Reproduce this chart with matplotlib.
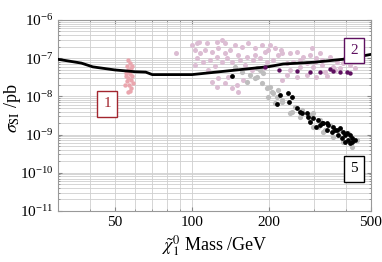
import matplotlib
matplotlib.use("Agg")
import matplotlib.pyplot as plt
from matplotlib.ticker import LogLocator, FixedLocator, NullFormatter

plt.rcParams["font.family"] = ["Liberation Serif", "DejaVu Serif"]
plt.rcParams["mathtext.fontset"] = "stix"

# exclusion limit curve
limit_mass = [30, 37, 41, 50, 60, 66, 70, 100, 150, 200, 227, 300, 400, 500]
limit_sigma = [9.3e-8, 7.4e-8, 5.9e-8, 4.9e-8, 4.4e-8, 4.3e-8, 3.7e-8, 3.7e-8,
               4.9e-8, 6.0e-8, 7.0e-8, 7.8e-8, 9.5e-8, 1.25e-7]

# region 1 (red-pink)
r1_mass = [56.5, 57.5, 58.5, 56.0, 58.0, 56.5, 57.0, 55.5, 57.5, 55.5, 58.5, 56.5,
           58.0, 56.0, 59.0, 57.0, 55.0, 58.0, 57.5, 56.5]
r1_sigma = [9.0e-8, 7.5e-8, 6.2e-8, 6.2e-8, 5.5e-8, 4.9e-8, 4.35e-8, 4.1e-8, 3.9e-8,
            3.4e-8, 3.4e-8, 3.0e-8, 2.7e-8, 2.5e-8, 2.2e-8, 2.0e-8, 2.0e-8, 1.66e-8,
            1.38e-8, 1.3e-8]

# region 2 (light lavender)
r2_mass = [105, 107, 114.5, 125, 131, 134.7, 103, 107.6, 112.5, 120, 126.5, 134.7,
           104.6, 110.5, 117.7, 125, 131, 137, 120, 126.5, 125, 134.7, 143.5, 151,
           150, 158.4, 138, 147.4, 157, 165.5, 176.5, 188, 198, 211, 225, 151, 164,
           173, 184.6, 196.5, 207.5, 161.3, 172, 188, 223, 242, 258, 272, 289, 306,
           322, 346, 369, 389, 235, 248, 264.5, 282, 297, 322, 356, 379, 235, 258,
           282, 306, 337, 242, 225, 415, 434, 396, 100, 103, 140.9, 154, 176.5, 193,
           217, 264.5, 303, 317, 362, 331, 116, 123, 144, 202, 295, 87]
r2_sigma = [2.5e-7, 2.65e-7, 2.5e-7, 2.65e-7, 3.0e-7, 2.5e-7, 1.64e-7, 1.37e-7,
            1.64e-7, 1.45e-7, 1.85e-7, 1.37e-7, 1.01e-7, 7.95e-8, 9.0e-8, 1.07e-7,
            7.95e-8, 1.0e-7, 2.38e-8, 3.0e-8, 1.76e-8, 2.24e-8, 1.66e-8, 1.3e-8,
            2.0e-8, 2.7e-8, 3.2e-8, 2.2e-7, 1.97e-7, 2.5e-7, 1.85e-7, 2.2e-7, 1.64e-7,
            1.85e-7, 1.37e-7, 1.21e-7, 1.07e-7, 9.0e-8, 1.0e-7, 7.95e-8, 9.0e-8,
            6.6e-8, 4.9e-8, 5.5e-8, 1.64e-7, 1.37e-7, 1.45e-7, 1.07e-7, 1.21e-7,
            1.0e-7, 9.0e-8, 1.07e-7, 7.95e-8, 7.5e-8, 7.5e-8, 7.95e-8, 5.9e-8, 7.5e-8,
            5.9e-8, 6.6e-8, 5.9e-8, 5.5e-8, 3.6e-8, 3.2e-8, 3.6e-8, 3.2e-8, 3.4e-8,
            4.9e-8, 2.7e-8, 6.6e-8, 5.5e-8, 1.0e-7, 2.2e-7, 6.6e-8, 1.64e-7, 9.0e-8,
            1.21e-7, 1.45e-7, 1.21e-7, 9.0e-8, 7.95e-8, 1.37e-7, 4.9e-8, 4.35e-8,
            4.9e-8, 6.25e-8, 7.95e-8, 2.2e-7, 1.85e-7, 1.33e-7]

# region 2 (purple, below the limit)
r2b_mass = [193, 219, 258, 289, 316.6, 346, 356, 379, 403, 414.6]
r2b_sigma = [5.9e-8, 4.9e-8, 4.6e-8, 4.35e-8, 4.35e-8, 5.2e-8, 4.6e-8, 4.35e-8,
             4.35e-8, 4.1e-8]

# region 5 (grey)
r5_mass = [147.4, 157, 168.7, 180, 188, 196.5, 206, 215, 198, 211, 225, 180, 164,
           190, 202, 207.5, 225, 246, 253, 264.5, 289, 310, 331, 242, 270, 297, 289,
           316.6, 346, 379, 406, 423, 389, 356, 324, 297, 176.5, 184.6, 217, 443]
r5_sigma = [5.9e-8, 4.35e-8, 3.6e-8, 3.2e-8, 2.24e-8, 1.66e-8, 1.3e-8, 9.6e-9,
            9.6e-9, 6.7e-9, 7.1e-9, 5.5e-8, 2.38e-8, 4.1e-8, 1.76e-8, 1.23e-8,
            8.05e-9, 3.9e-9, 5.3e-9, 2.9e-9, 2.4e-9, 1.58e-9, 1.32e-9, 3.7e-9,
            4.4e-9, 3.7e-9, 3.26e-9, 2.4e-9, 1.78e-9, 1.32e-9, 1.1e-9, 4.7e-10,
            6.4e-10, 8.65e-10, 1.17e-9, 1.58e-9, 3.0e-8, 4.9e-8, 1.47e-8, 7.2e-10]

# region 5 (black)
r5b_mass = [143.5, 221, 237, 246, 215, 239.5, 258, 264.5, 270, 283.5, 297, 310,
            322, 337, 289, 306, 282, 316.6, 324, 340, 356, 369, 379, 389, 403,
            414.6, 423, 406, 396, 414.6, 386, 372, 353, 337, 434, 423, 362, 396]
r5b_sigma = [3.4e-8, 1.09e-8, 1.23e-8, 9.6e-9, 6.3e-9, 7.1e-9, 5.0e-9, 3.9e-9,
             3.7e-9, 2.9e-9, 2.7e-9, 2.4e-9, 2.0e-9, 2.0e-9, 2.14e-9, 1.58e-9,
             3.7e-9, 1.78e-9, 2.0e-9, 1.78e-9, 1.58e-9, 1.32e-9, 1.49e-9, 1.17e-9,
             1.1e-9, 9.8e-10, 8.15e-10, 7.2e-10, 6.4e-10, 6.0e-10, 8.15e-10,
             9.8e-10, 1.17e-9, 1.32e-9, 7.2e-10, 6.4e-10, 1.32e-9, 9.8e-10]

fig = plt.figure(figsize=(3.82, 2.62), dpi=100)
ax = fig.add_axes([0.152, 0.195, 0.819, 0.729])

ax.set_xscale("log")
ax.set_yscale("log")
ax.set_xlim(30, 500)
ax.set_ylim(1e-11, 1e-6)

ax.scatter(r1_mass, r1_sigma, s=10, color="#eaa6ae", linewidths=0, zorder=3)
ax.scatter(r2_mass, r2_sigma, s=13, color="#dcbdd3", linewidths=0, zorder=3)
ax.scatter(r5_mass, r5_sigma, s=14, color="#bdbdbd", linewidths=0, zorder=4)
ax.scatter(r2b_mass, r2b_sigma, s=10, color="#5e1060", linewidths=0, zorder=5)
ax.scatter(r5b_mass, r5b_sigma, s=12, color="black", linewidths=0, zorder=5)
ax.plot(limit_mass, limit_sigma, color="black", lw=2.0, zorder=4)

ax.xaxis.set_major_locator(FixedLocator([50, 100, 200, 500]))
ax.xaxis.set_minor_locator(FixedLocator([30, 40, 60, 70, 80, 90, 300, 400]))
ax.set_xticklabels(["50", "100", "200", "500"])
ax.xaxis.set_minor_formatter(NullFormatter())
ax.yaxis.set_major_locator(LogLocator(base=10, numticks=10))
ax.yaxis.set_minor_locator(LogLocator(base=10, subs=range(2, 10), numticks=20))
ax.yaxis.set_minor_formatter(NullFormatter())

ax.grid(True, which="both", color="#cfcfcf", lw=0.6)
ax.set_axisbelow(True)
ax.tick_params(which="both", direction="in", top=True, right=True,
               color="#888888", labelsize=11, length=3)
ax.tick_params(which="minor", length=1.5)
for sp in ax.spines.values():
    sp.set_color("#999999")
    sp.set_linewidth(0.8)

ax.set_xlabel(r"$\tilde{\chi}_1^0$ Mass /GeV", fontsize=13, labelpad=3)
ax.set_ylabel(r"$\sigma_{\rm SI}$ /pb", fontsize=13)
ax.yaxis.set_label_coords(-0.112, 0.54)

box = dict(boxstyle="square,pad=0.4", fc="white", lw=1.0)
ax.text(0.157, 0.56, "1", transform=ax.transAxes, ha="center", va="center",
        fontsize=11, color="#a3262f", bbox=dict(box, ec="#a3262f"), zorder=6)
ax.text(0.947, 0.84, "2", transform=ax.transAxes, ha="center", va="center",
        fontsize=11, color="#5e1060", bbox=dict(box, ec="#5e1060"), zorder=6)
ax.text(0.947, 0.22, "5", transform=ax.transAxes, ha="center", va="center",
        fontsize=11, color="black", bbox=dict(box, ec="black"), zorder=6)

fig.savefig("out.png", dpi=100)
